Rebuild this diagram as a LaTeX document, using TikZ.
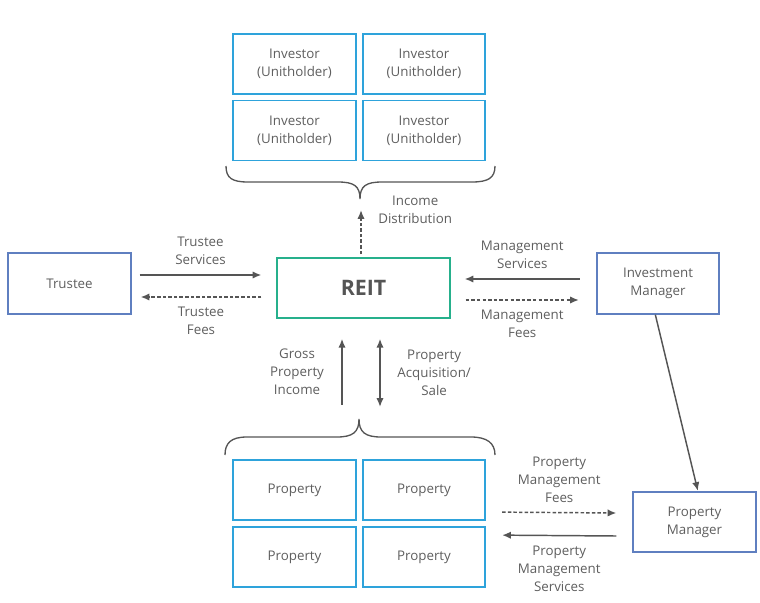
\documentclass[tikz,border=0pt]{standalone}
\usepackage{fontspec}
\setmainfont{Open Sans}
\usepackage{xcolor}
\definecolor{sky}{HTML}{2EA3DB}
\definecolor{slate}{HTML}{5F7FC0}
\definecolor{reitgreen}{HTML}{26B08C}
\definecolor{ink}{HTML}{5E5E5E}
\definecolor{wire}{HTML}{555555}
\usetikzlibrary{positioning,arrows.meta,calc}

\begin{document}
\begin{tikzpicture}[
  x=0.75pt,y=-0.75pt,
  font=\fontsize{10}{13.5}\selectfont,text=ink,
  box/.style={draw,line width=1.3pt,align=center,inner sep=2pt},
  unit/.style={box,draw=sky,minimum width=92pt,minimum height=45pt},
  party/.style={box,draw=slate,minimum width=92pt,minimum height=45.5pt},
  flow/.style={-{Latex[length=6.5pt,width=5.5pt]},wire,line width=1.1pt},
  pay/.style={flow,dash pattern=on 2.6pt off 1.6pt},
  both/.style={{Latex[length=6.5pt,width=5.5pt]}-{Latex[length=6.5pt,width=5.5pt]},wire,line width=1.1pt},
  brace/.style={wire,line width=1pt},
  lbl/.style={align=center,text=ink,inner sep=0pt},
]
\useasboundingbox (0,0) rectangle (760,603);

% investors
\node[unit] (inv1) at (294.5,64)    {Investor\\(Unitholder)};
\node[unit] (inv2) at (424,64)      {Investor\\(Unitholder)};
\node[unit] (inv3) at (294.5,130.5) {Investor\\(Unitholder)};
\node[unit] (inv4) at (424,130.5)   {Investor\\(Unitholder)};

% properties
\node[unit] (prop1) at (294.5,490) {Property};
\node[unit] (prop2) at (424,490)   {Property};
\node[unit] (prop3) at (294.5,557) {Property};
\node[unit] (prop4) at (424,557)   {Property};

% parties
\node[party] (trustee) at (69.5,283.5) {Trustee};
\node[party] (invmgr)  at (658,283.5)  {Investment\\Manager};
\node[party] (propmgr) at (694.5,522)  {Property\\Manager};
\node[box,draw=reitgreen,minimum width=129.5pt,minimum height=45pt,text=wire,
      font=\fontsize{16}{18}\selectfont\bfseries] (reit) at (363.5,288) {REIT};

% braces
\draw[brace] (226,166) .. controls (226,178) and (232,182) .. (248,182) -- (338,182)
  .. controls (354,182) and (360,186) .. (360,199)
  .. controls (360,186) and (366,182) .. (382,182) -- (472,182)
  .. controls (488,182) and (495,178) .. (495,166);
\draw[brace] (225,455) .. controls (225,443) and (231,437) .. (247,437) -- (337,437)
  .. controls (353,437) and (359,432) .. (359,419)
  .. controls (359,432) and (365,437) .. (381,437) -- (471,437)
  .. controls (487,437) and (495,443) .. (495,455);

% reit <-> investors
\draw[pay] ([shift={(-2.5,-3)}]reit.north) -- ([shift={(-2.5,-47)}]reit.north)
  node[lbl,anchor=west,xshift=12.5pt] {Income\\Distribution};

% trustee
\draw[flow] ([shift={(8,-8.5)}]trustee.east) -- ([shift={(-15,-13)}]reit.west)
  node[lbl,midway,above=7pt] {Trustee\\Services};
\draw[pay] ([shift={(-15,9)}]reit.west) -- ([shift={(9,13.5)}]trustee.east)
  node[lbl,midway,below=7pt] {Trustee\\Fees};

% investment manager
\draw[flow] ([shift={(-16,-4.5)}]invmgr.west) -- ([shift={(14,-9)}]reit.east)
  node[lbl,midway,above=7pt] {Management\\Services};
\draw[pay] ([shift={(15,12)}]reit.east) -- ([shift={(-17,16.5)}]invmgr.west)
  node[lbl,midway,below=7pt] {Management\\Fees};
\draw[flow] ([xshift=-2]invmgr.south) -- ([xshift=2.5]propmgr.north);

% properties <-> reit
\draw[flow] ([shift={(-21.5,86)}]reit.south) -- ([shift={(-21.5,20)}]reit.south)
  node[lbl,midway,left=13pt] {Gross\\Property\\Income};
\draw[both] ([shift={(16.5,20)}]reit.south) -- ([shift={(16.5,88)}]reit.south)
  node[lbl,midway,right=12.5pt] {Property\\Acquisition/\\Sale};

% property manager
\draw[pay] ([shift={(16,-14)}]prop4.north east) -- ([shift={(-16,-9)}]propmgr.west)
  node[lbl,midway,above=7pt] {Property\\Management\\Fees};
\draw[flow] ([shift={(-16,14)}]propmgr.west) -- ([shift={(16,9)}]prop4.north east)
  node[lbl,midway,below=7pt] {Property\\Management\\Services};
\end{tikzpicture}
\end{document}
